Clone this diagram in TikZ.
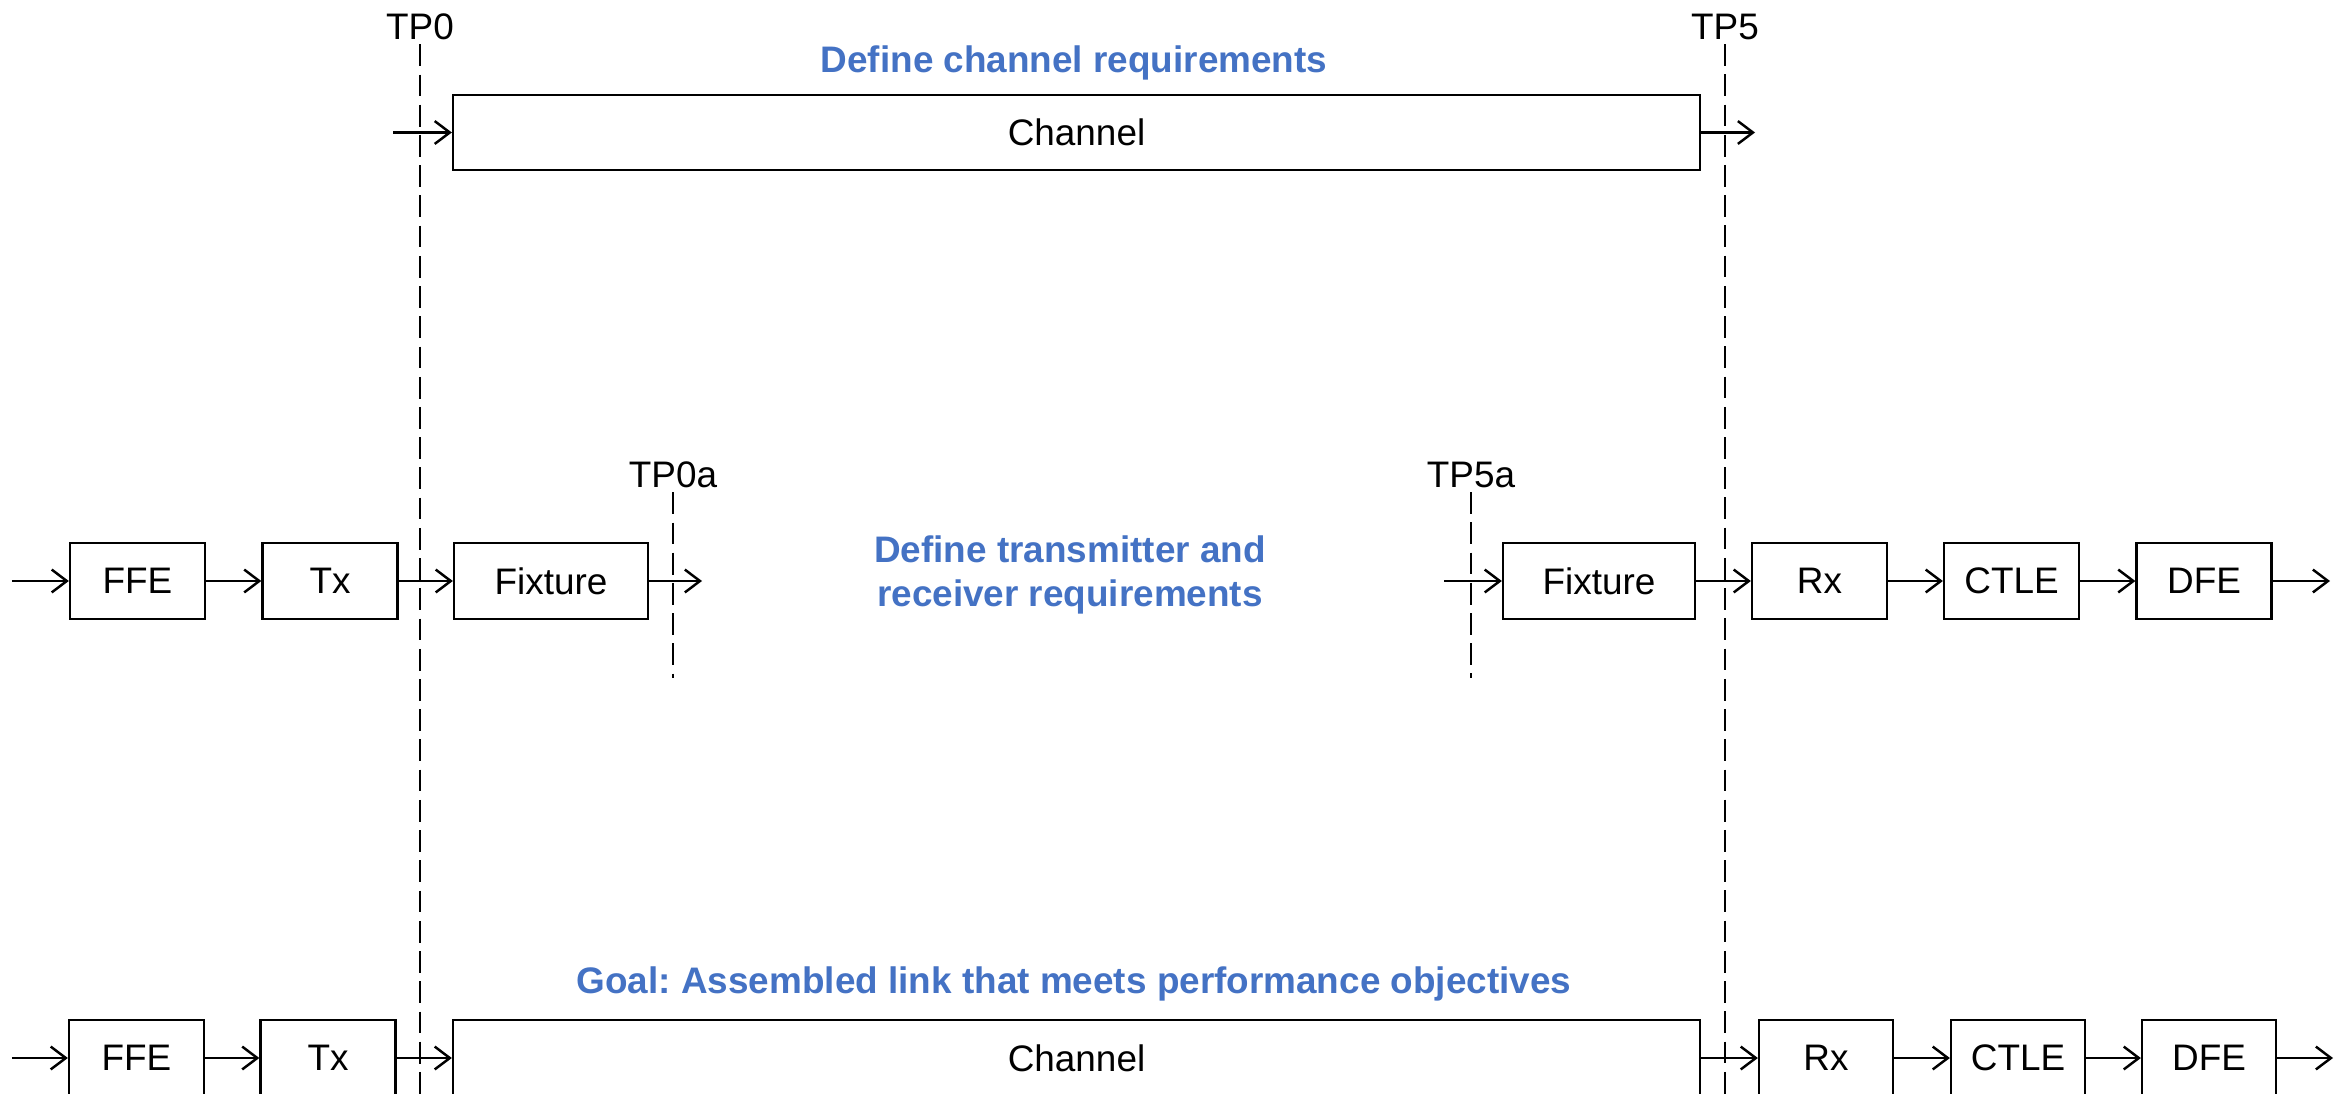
\documentclass[tikz,border=0pt]{standalone}
\usepackage{fontspec}
\setmainfont{Liberation Sans}
\usetikzlibrary{arrows.meta,positioning}
\definecolor{specblue}{RGB}{68,114,196}
\frenchspacing

\begin{document}
\begin{tikzpicture}[
    blk/.style={draw, line width=0.65pt, minimum height=0.76cm, inner sep=0pt,
                font=\fontsize{10.5}{12}\selectfont},
    sig/.style={line width=0.7pt, -{Straight Barb[length=4.3pt,width=6.5pt]}},
    tpline/.style={line width=0.75pt, dash pattern=on 6.2pt off 2.4pt},
    tplabel/.style={inner sep=1pt, font=\fontsize{10.5}{12}\selectfont},
    goal/.style={text=specblue, align=center,
                 font=\bfseries\fontsize{10.5}{12.4}\selectfont}]
  \useasboundingbox (0,0) rectangle (23.51,10.93);

  % test points
  \node[tplabel] (tp0) at (4.20,10.66) {TP0};
  \node[tplabel] (tp5) at (17.25,10.66) {TP5};
  \node[tplabel] (tp0a) at (6.73,6.18) {TP0a};
  \node[tplabel] (tp5a) at (14.71,6.18) {TP5a};
  \coordinate (tp0end) at (4.20,-0.2);
  \coordinate (tp5end) at (17.25,-0.2);
  \coordinate (tp0aend) at (6.73,4.15);
  \coordinate (tp5aend) at (14.71,4.15);
  \foreach \tp in {tp0,tp5,tp0a,tp5a}{
    \draw[tpline] (\tp.south) -- (\tp end);}

  % channel only
  \node[goal] (chreq) at (10.74,10.30) {Define channel requirements};
  \node[blk, minimum width=12.47cm, minimum height=0.75cm] (tch) at (10.765,9.605) {Channel};
  \coordinate (tchin) at (3.93,9.605);
  \coordinate (tchout) at (17.55,9.605);
  \draw[sig] (tchin) -- (tch);
  \draw[sig] (tch) -- (tchout);

  % transmitter and receiver
  \node[goal] (txrxreq) at (10.70,5.18) {Define transmitter and\\receiver requirements};
  \foreach \n/\x/\w/\t in {ffe/1.375/1.35/FFE, tx/3.30/1.35/Tx, fixl/5.51/1.94/Fixture,
                           fixr/15.99/1.92/Fixture, rx/18.195/1.35/Rx,
                           ctle/20.115/1.35/CTLE, dfe/22.04/1.35/DFE}{
    \node[blk, minimum width=\w cm] (m\n) at (\x,5.12) {\t};}
  \coordinate (min) at (0.12,5.12);
  \coordinate (mfixlout) at (7.02,5.12);
  \coordinate (mfixrin) at (14.44,5.12);
  \coordinate (mout) at (23.30,5.12);
  \draw[sig] (min) -- (mffe);
  \draw[sig] (mffe) -- (mtx);
  \draw[sig] (mtx) -- (mfixl);
  \draw[sig] (mfixl) -- (mfixlout);
  \draw[sig] (mfixrin) -- (mfixr);
  \draw[sig] (mfixr) -- (mrx);
  \draw[sig] (mrx) -- (mctle);
  \draw[sig] (mctle) -- (mdfe);
  \draw[sig] (mdfe) -- (mout);

  % assembled link
  \node[goal] (linkgoal) at (10.74,1.09) {Goal: Assembled link that meets performance objectives};
  \foreach \n/\x/\w/\t in {ffe/1.365/1.35/FFE, tx/3.28/1.35/Tx, ch/10.765/12.47/Channel,
                           rx/18.26/1.34/Rx, ctle/20.18/1.34/CTLE, dfe/22.09/1.34/DFE}{
    \node[blk, minimum width=\w cm] (b\n) at (\x,0.35) {\t};}
  \coordinate (bin) at (0.12,0.35);
  \coordinate (bout) at (23.33,0.35);
  \draw[sig] (bin) -- (bffe);
  \draw[sig] (bffe) -- (btx);
  \draw[sig] (btx) -- (bch);
  \draw[sig] (bch) -- (brx);
  \draw[sig] (brx) -- (bctle);
  \draw[sig] (bctle) -- (bdfe);
  \draw[sig] (bdfe) -- (bout);
\end{tikzpicture}
\end{document}
